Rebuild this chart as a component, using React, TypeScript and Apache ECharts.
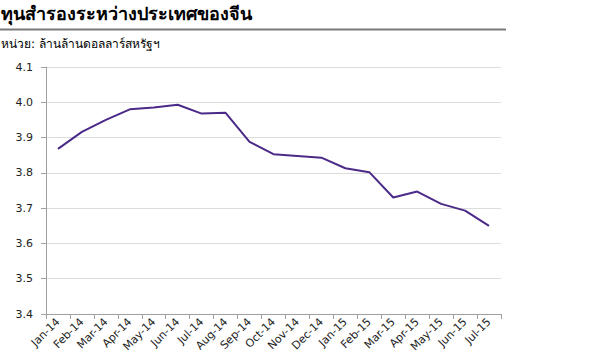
import React, { useEffect, useRef } from "react";
import * as echarts from "echarts";

const titleText = "ทุนสำรองระหว่างประเทศของจีน";
const unitText = "หน่วย: ล้านล้านดอลลาร์สหรัฐฯ";
const months = [
  "Jan-14", "Feb-14", "Mar-14", "Apr-14", "May-14", "Jun-14", "Jul-14", "Aug-14",
  "Sep-14", "Oct-14", "Nov-14", "Dec-14", "Jan-15", "Feb-15", "Mar-15", "Apr-15",
  "May-15", "Jun-15", "Jul-15",
];
const reserves = [
  3.868, 3.916, 3.95, 3.98, 3.985, 3.993, 3.968, 3.97,
  3.888, 3.853, 3.848, 3.843, 3.813, 3.802, 3.73, 3.747,
  3.712, 3.693, 3.65,
];

const FONT = "Tahoma, 'DejaVu Sans', Verdana, sans-serif";

export default function App() {
  const ref = useRef<HTMLDivElement>(null);
  useEffect(() => {
    if (!ref.current) return;
    const chart = echarts.init(ref.current, null, { renderer: "svg" });
    chart.setOption({
      animation: false,
      backgroundColor: "#ffffff",
      textStyle: { fontFamily: FONT },
      graphic: [
        {
          type: "text",
          left: 1,
          top: 4,
          style: { text: titleText, font: `bold 18px ${FONT}`, fill: "#000" },
        },
        {
          type: "rect",
          shape: { x: 0, y: 28.5, width: 506, height: 2 },
          style: { fill: "#7a7a7a" },
        },
        {
          type: "text",
          left: 1,
          top: 38,
          style: { text: unitText, font: `12px ${FONT}`, fill: "#000" },
        },
      ],
      grid: { left: 46, right: 113, top: 67, bottom: 49, containLabel: false },
      xAxis: {
        type: "category",
        data: months,
        boundaryGap: true,
        axisLine: { lineStyle: { color: "#a0a0a0", width: 1 } },
        axisTick: { show: true, length: 5, lineStyle: { color: "#a0a0a0" } },
        axisLabel: {
          interval: 0,
          rotate: 45,
          color: "#222",
          fontSize: 11,
          fontFamily: FONT,
          margin: 6,
        },
        splitLine: { show: false },
      },
      yAxis: {
        type: "value",
        min: 3.4,
        max: 4.1,
        interval: 0.1,
        axisLine: { show: true, lineStyle: { color: "#a0a0a0", width: 1 } },
        axisTick: { show: true, length: 5, lineStyle: { color: "#a0a0a0" } },
        axisLabel: {
          color: "#222",
          fontSize: 11,
          fontFamily: FONT,
          margin: 13,
          formatter: (v: number) => v.toFixed(1),
        },
        splitLine: { show: true, lineStyle: { color: "#dcdcdc", width: 1 } },
      },
      series: [
        {
          type: "line",
          data: reserves,
          symbol: "none",
          lineStyle: { color: "#4b2a88", width: 2 },
        },
      ],
    });
    return () => chart.dispose();
  }, []);
  return (
    <div
      ref={ref}
      style={{ position: "absolute", left: 0, top: 0, width: 614, height: 363 }}
    />
  );
}
